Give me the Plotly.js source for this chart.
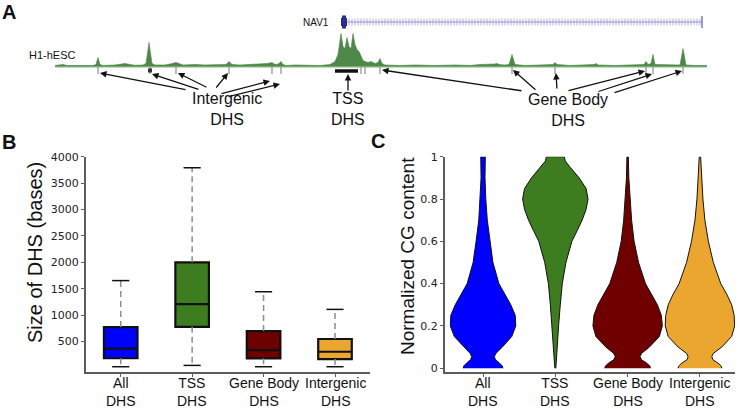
<!DOCTYPE html>
<html>
<head>
<meta charset="utf-8">
<script src="https://cdn.plot.ly/plotly-3.0.1.min.js"></script>
<style>
  body { margin: 0; background: #fff; }
  #graph { width: 740px; height: 409px; }
</style>
</head>
<body>
<div id="graph"></div>
<script>
// ---- panel A: H1-hESC DNase signal around NAV1 (positions in kb from track start) ----
const sigPos = [0, 5, 8, 12, 20, 30, 38, 41, 43, 45, 48, 60, 65, 70, 75, 80, 88, 91, 94, 97, 100, 110, 115, 118, 121,
    124, 128, 140, 150, 160, 171, 174, 177, 185, 195, 205, 212, 215, 217, 219, 222, 224, 226, 228, 231, 240, 255, 265,
    275, 280, 283, 286, 288, 290, 292, 294, 296, 298, 300, 302, 304, 306, 308, 310, 313, 316, 320, 323, 325, 327, 330,
    345, 360, 380, 400, 415, 425, 440, 442, 444, 450, 454, 457, 460, 470, 485, 498, 500, 502, 515, 530, 539, 541, 543,
    560, 575, 586, 589, 591, 593, 596, 598, 600, 610, 620, 625, 628, 631, 640, 652];
const sigVal = [1, 1.5, 2, 1, 1, 1.2, 1, 2, 9, 2, 1, 1.5, 2.5, 3, 2, 1.2, 1.5, 3, 24, 3, 1.5, 1.5, 2.5, 3.5, 4,
    3, 1.5, 2, 1.5, 1.8, 2, 5, 2, 1.5, 2, 2, 3, 3.5, 4, 2.5, 2, 3, 5, 2, 1, 1.5, 1, 1,
    2, 5, 12, 33, 20, 18, 29, 20, 18, 33, 22, 17, 15, 10, 6, 5, 4, 5, 3, 4, 8, 3, 1.5,
    1, 1.5, 1, 1.5, 1, 2, 2.5, 3, 2, 1.5, 2, 12, 2, 1, 1.5, 2, 4, 2, 1, 1.5, 2, 3, 1.5,
    1, 1.5, 1.5, 2, 5, 2, 3, 12, 2, 1.5, 1, 1.5, 18, 1.5, 1, 1];
const trackEnd = 652;
const intergenicDHS = [43, 95, 121, 174, 217, 226];
const geneBodyDHS = [306, 310, 325, 457, 500, 591, 598, 628];
const tssDHS = [280, 303];
const nav1 = {start: 286, exonEnd: 292, end: 647};

// ---- panel B: DHS size (bases) ----
const catNames = ['All', 'TSS', 'Gene Body', 'Intergenic'];
const catColors = ['#0000ff', '#3e7c20', '#6e0000', '#eba62f'];
const sizeLow = [25, 50, 25, 25];
const sizeQ1 = [185, 780, 183, 170];
const sizeMedian = [366, 1210, 340, 308];
const sizeQ3 = [775, 2000, 700, 550];
const sizeHigh = [1655, 3790, 1444, 1110];

// ---- panel C: normalized CG content, violin half-widths ----
const cgLevels = [0, 0.01, 0.025, 0.04, 0.055, 0.07, 0.1, 0.15, 0.2, 0.25, 0.3, 0.35, 0.4, 0.5, 0.6, 0.7, 0.8, 0.9, 1.0];
const cgAll = [20, 19.5, 16.5, 12.5, 11.5, 13, 19.5, 29, 33, 32.5, 28, 22, 16, 10, 7, 4.3, 2.8, 2, 2.3];
const cgGeneBody = [23, 22.5, 19, 14, 12.5, 14, 22, 32, 35, 34, 30, 24, 18, 11, 6.5, 4, 2.3, 1.2, 0.7];
const cgIntergenic = [22, 21.5, 18, 13, 12, 13.5, 22, 32, 35, 34.5, 32, 27, 21, 13.5, 8.5, 5, 3, 1.5, 0.7];
const tssLevels = [0, 0.1, 0.2, 0.3, 0.4, 0.5, 0.6, 0.65, 0.7, 0.75, 0.8, 0.85, 0.9, 0.95, 0.98, 1.0];
const cgTss = [0.5, 1.7, 3.3, 5, 7, 10.7, 16.7, 22, 27, 31, 33, 31, 24, 15, 10, 9];

const violinScale = 0.48 / 35;
const axisGrey = '#5c5c5c';
const labelFont = 'Liberation Sans, Arial, sans-serif';

let data = [];

// track A
data.push({
    x: [0, trackEnd], y: [0, 0], xaxis: 'x3', yaxis: 'y3', mode: 'lines',
    line: {color: '#a9d0a2', width: 2.5}, hoverinfo: 'skip'
});
data.push({
    x: sigPos, y: sigVal, xaxis: 'x3', yaxis: 'y3', mode: 'lines', fill: 'tozeroy',
    line: {color: '#4f8649', width: 0.6}, fillcolor: '#4f8649', hoverinfo: 'skip'
});
data.push({
    x: intergenicDHS.concat(geneBodyDHS), y: intergenicDHS.concat(geneBodyDHS).map(() => -4),
    xaxis: 'x3', yaxis: 'y3', mode: 'markers',
    marker: {symbol: 'line-ns-open', size: 5, color: '#8a8f89', line: {width: 1.2}}, hoverinfo: 'skip'
});
data.push({
    x: [95], y: [-4], xaxis: 'x3', yaxis: 'y3', mode: 'markers',
    marker: {symbol: 'square', size: 4, color: '#333'}, hoverinfo: 'skip'
});
data.push({
    x: tssDHS, y: [-4.5, -4.5], xaxis: 'x3', yaxis: 'y3', mode: 'lines',
    line: {color: '#111', width: 3.5}, hoverinfo: 'skip'
});

// NAV1 gene model
const geneRow = 44.5;
let hatch = [];
for (let p = nav1.exonEnd + 2; p < nav1.end - 1; p += 3) hatch.push(p);
data.push({
    x: [nav1.exonEnd, nav1.end], y: [geneRow, geneRow], xaxis: 'x3', yaxis: 'y3', mode: 'lines',
    line: {color: '#8e8ed2', width: 1}, hoverinfo: 'skip'
});
data.push({
    x: hatch, y: hatch.map(() => geneRow), xaxis: 'x3', yaxis: 'y3', mode: 'markers',
    marker: {symbol: 'line-ns-open', size: 5, color: '#9d9dd8', line: {width: 0.8}}, hoverinfo: 'skip'
});
data.push({
    x: [nav1.end, nav1.end], y: [geneRow - 6, geneRow + 6], xaxis: 'x3', yaxis: 'y3', mode: 'lines',
    line: {color: '#5a5aa8', width: 1.2}, hoverinfo: 'skip'
});
data.push({
    x: [nav1.start, nav1.exonEnd], y: [geneRow, geneRow], xaxis: 'x3', yaxis: 'y3', mode: 'lines',
    line: {color: '#2d2d86', width: 8}, hoverinfo: 'skip'
});
data.push({
    x: [nav1.start + 1, nav1.exonEnd - 1], y: [geneRow, geneRow], xaxis: 'x3', yaxis: 'y3', mode: 'lines',
    line: {color: '#2d2d86', width: 13}, hoverinfo: 'skip'
});

// box plot B: dashed whiskers + caps first, boxes on top
for (let i = 0; i < catNames.length; i++) {
    data.push({
        x: [i, i, null, i, i], y: [sizeQ3[i], sizeHigh[i], null, sizeQ1[i], sizeLow[i]],
        mode: 'lines', line: {color: '#8c8c8c', width: 1.5, dash: '6px,4px'}, hoverinfo: 'skip'
    });
    data.push({
        x: [i - 0.12, i + 0.12, null, i - 0.12, i + 0.12], y: [sizeHigh[i], sizeHigh[i], null, sizeLow[i], sizeLow[i]],
        mode: 'lines', line: {color: '#111', width: 1.5}, hoverinfo: 'skip'
    });
    data.push({
        type: 'box', x: [i], q1: [sizeQ1[i]], median: [sizeMedian[i]], q3: [sizeQ3[i]],
        lowerfence: [sizeQ1[i]], upperfence: [sizeQ3[i]], width: 0.47, whiskerwidth: 0,
        fillcolor: catColors[i], line: {color: '#111', width: 2.2}, hoverinfo: 'skip'
    });
}

// violins C
function violin(center, levels, widths, color) {
    let xs = [], ys = [];
    for (let k = 0; k < levels.length; k++) {
        xs.push(center + widths[k] * violinScale);
        ys.push(levels[k]);
    }
    for (let k = levels.length - 1; k >= 0; k--) {
        xs.push(center - widths[k] * violinScale);
        ys.push(levels[k]);
    }
    return {
        x: xs, y: ys, xaxis: 'x2', yaxis: 'y2', mode: 'lines', fill: 'toself',
        fillcolor: color, line: {color: '#111', width: 1}, hoverinfo: 'skip'
    };
}
data.push(violin(0, cgLevels, cgAll, catColors[0]));
data.push(violin(1, tssLevels, cgTss, catColors[1]));
data.push(violin(2, cgLevels, cgGeneBody, catColors[2]));
data.push(violin(3, cgLevels, cgIntergenic, catColors[3]));

// arrows in A: [head x, head y, tail x, tail y]
const arrowList = [
    [45, -6.5, 132, -23.5], [97, -7.5, 145, -23.5], [123, -6.5, 153, -21.5], [173, -6.5, 160, -22.5],
    [215, -14.5, 165, -27.5], [225, -17.5, 172, -30.5],
    [293, -7.5, 293, -25.5],
    [327, -3.5, 468, -24.5], [458, -3.5, 482, -24.5], [501, -6.5, 502, -23.5], [590, -4.5, 512, -24.5],
    [597, -7.5, 542, -25.5], [627, -4.5, 558, -26.5]
];

let annotations = arrowList.map(a => ({
    x: a[0], y: a[1], ax: a[2], ay: a[3], xref: 'x3', yref: 'y3', axref: 'x3', ayref: 'y3',
    text: '', showarrow: true, arrowhead: 2, arrowsize: 1, arrowwidth: 1.3, arrowcolor: '#111', standoff: 0
}));

function label(text, x, y, size, opts) {
    return Object.assign({
        text: text, x: x, y: y, xref: 'paper', yref: 'paper', showarrow: false,
        xanchor: 'center', yanchor: 'middle', font: {family: labelFont, size: size, color: '#111'}
    }, opts || {});
}

annotations.push(
    label('<b>A</b>', 9 / 740, 1 - 12 / 409, 20),
    label('<b>B</b>', 9 / 740, 1 - 142 / 409, 20),
    label('<b>C</b>', 378 / 740, 1 - 141 / 409, 20),
    label('H1-hESC', 52 / 740, 1 - 55 / 409, 11),
    label('NAV1', 316 / 740, 1 - 23 / 409, 10),
    label('Intergenic<br>DHS', 227 / 740, 1 - 109 / 409, 16),
    label('TSS<br>DHS', 348 / 740, 1 - 109 / 409, 16),
    label('Gene Body<br>DHS', 568 / 740, 1 - 110 / 409, 16),
    label('Size of DHS (bases)', 35 / 740, 1 - 253 / 409, 20, {textangle: -90}),
    label('Normalized CG content', 407 / 740, 1 - 256 / 409, 19, {textangle: -90})
);

// category labels under both panels, placed through each x axis
['x', 'x2'].forEach(ax => {
    catNames.forEach((name, i) => {
        annotations.push(label(name + '<br>DHS', i, 1 - 392 / 409, 14, {xref: ax}));
    });
});

const numTickFont = {family: 'DejaVu Sans, sans-serif', size: 11, color: '#222'};

let layout = {
    width: 740, height: 409, autosize: false,
    margin: {l: 0, r: 0, t: 0, b: 0},
    paper_bgcolor: '#fff', plot_bgcolor: 'rgba(0,0,0,0)',
    showlegend: false, boxmode: 'overlay',
    xaxis: {
        domain: [86 / 740, 370 / 740], range: [-0.486, 3.49], anchor: 'y',
        tickvals: [0, 1, 2, 3], showticklabels: false,
        showline: true, linecolor: axisGrey, linewidth: 2, ticks: 'outside', ticklen: 3, tickcolor: axisGrey,
        showgrid: false, zeroline: false
    },
    yaxis: {
        domain: [37 / 409, 252.3 / 409], range: [-75, 4000], anchor: 'x',
        tickvals: [500, 1000, 1500, 2000, 2500, 3000, 3500, 4000], tickfont: numTickFont,
        showline: true, linecolor: axisGrey, linewidth: 2, ticks: 'outside', ticklen: 3, tickcolor: axisGrey,
        showgrid: false, zeroline: false
    },
    xaxis2: {
        domain: [445 / 740, 735 / 740], range: [-0.526, 3.485], anchor: 'y2',
        tickvals: [0, 1, 2, 3], showticklabels: false,
        showline: true, linecolor: axisGrey, linewidth: 2, ticks: 'outside', ticklen: 3, tickcolor: axisGrey,
        showgrid: false, zeroline: false
    },
    yaxis2: {
        domain: [37 / 409, 252.3 / 409], range: [-0.018, 1.0], anchor: 'x2',
        tickvals: [0, 0.2, 0.4, 0.6, 0.8, 1], ticktext: ['0', '0.2', '0.4', '0.6', '0.8', '1'], tickfont: numTickFont,
        showline: true, linecolor: axisGrey, linewidth: 2, ticks: 'outside', ticklen: 3, tickcolor: axisGrey,
        showgrid: false, zeroline: false
    },
    xaxis3: {domain: [0, 1], range: [-55, 685], anchor: 'y3', visible: false, fixedrange: true},
    yaxis3: {domain: [0.68, 1], range: [-64.4, 66.5], anchor: 'x3', visible: false, fixedrange: true},
    annotations: annotations
};

Plotly.newPlot('graph', data, layout, {staticPlot: true});
</script>
</body>
</html>
